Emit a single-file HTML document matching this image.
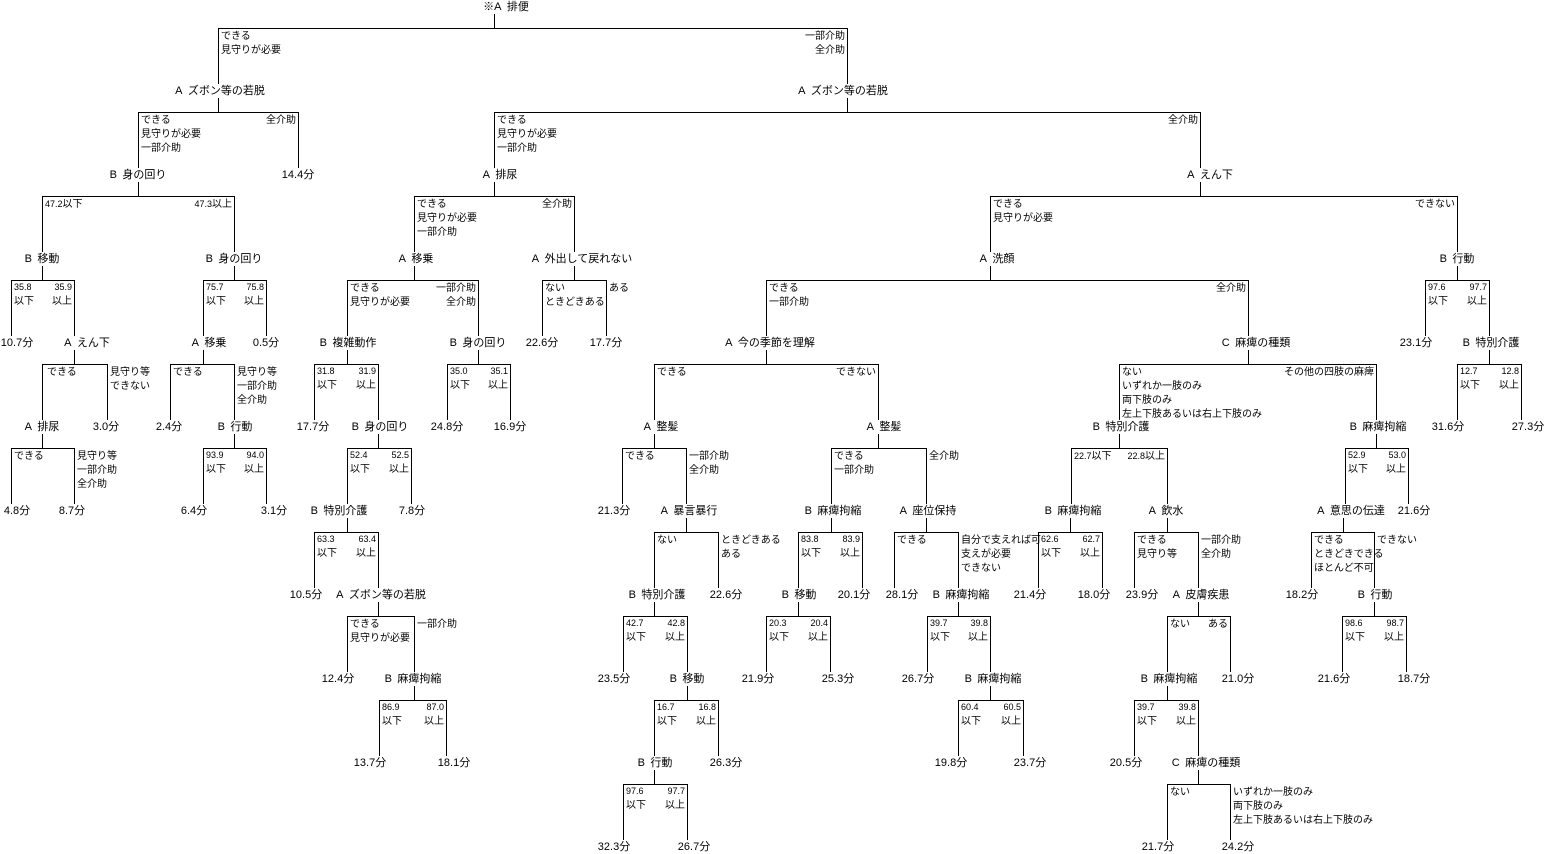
<!DOCTYPE html>
<html><head><meta charset="utf-8">
<style>
html,body{margin:0;padding:0;background:#fff;}
svg{display:block;}
text{font-family:"Liberation Sans","Noto Sans CJK JP",sans-serif;fill:#000;}
.l{font-size:11px;text-anchor:middle;}
.c{font-size:10px;}
.e{text-anchor:end;}
.n{font-size:9px;}
path{fill:none;stroke:#000;stroke-width:1;}
</style></head><body>
<svg width="1545" height="854" viewBox="0 0 1545 854" xmlns="http://www.w3.org/2000/svg" shape-rendering="crispEdges">

<!-- level 0 -->
<g transform="translate(0,0)">
<text class="l" x="506" y="10">※A&#8194;排便</text>
<path d="M494.5 14V28.5 M218.5 84V28.5H847.5V84"/>
<text class="c" x="221" y="39">できる</text><text class="c" x="221" y="53">見守りが必要</text>
<text class="c e" x="845" y="39">一部介助</text><text class="c e" x="845" y="53">全介助</text>
</g>

<!-- level 1 -->
<g transform="translate(0,84)">
<text class="l" x="220" y="10">A&#8194;ズボン等の若脱</text>
<text class="l" x="843" y="10">A&#8194;ズボン等の若脱</text>
<path d="M218.5 14V28.5 M138.5 84V28.5H298.5V84"/>
<path d="M847.5 14V28.5 M494.5 84V28.5H1200.5V84"/>
<text class="c" x="141" y="39">できる</text><text class="c" x="141" y="53">見守りが必要</text><text class="c" x="141" y="67">一部介助</text>
<text class="c e" x="296" y="39">全介助</text>
<text class="c" x="497" y="39">できる</text><text class="c" x="497" y="53">見守りが必要</text><text class="c" x="497" y="67">一部介助</text>
<text class="c e" x="1198" y="39">全介助</text>
</g>

<!-- level 2 -->
<g transform="translate(0,168)">
<text class="l" x="138" y="10">B&#8194;身の回り</text>
<text class="l" x="298" y="10">14.4分</text>
<text class="l" x="500" y="10">A&#8194;排尿</text>
<text class="l" x="1210" y="10">A&#8194;えん下</text>
<path d="M138.5 14V28.5 M42.5 84V28.5H234.5V84"/>
<path d="M494.5 14V28.5 M414.5 84V28.5H574.5V84"/>
<path d="M1200.5 14V28.5 M990.5 84V28.5H1457.5V84"/>
<text class="c" x="45" y="39"><tspan class="n">47.2</tspan>以下</text>
<text class="c e" x="232" y="39"><tspan class="n">47.3</tspan>以上</text>
<text class="c" x="417" y="39">できる</text><text class="c" x="417" y="53">見守りが必要</text><text class="c" x="417" y="67">一部介助</text>
<text class="c e" x="572" y="39">全介助</text>
<text class="c" x="993" y="39">できる</text><text class="c" x="993" y="53">見守りが必要</text>
<text class="c e" x="1455" y="39">できない</text>
</g>

<!-- level 3 -->
<g transform="translate(0,252)">
<text class="l" x="42" y="10">B&#8194;移動</text>
<text class="l" x="234" y="10">B&#8194;身の回り</text>
<text class="l" x="416" y="10">A&#8194;移乗</text>
<text class="l" x="582" y="10">A&#8194;外出して戻れない</text>
<text class="l" x="997" y="10">A&#8194;洗顔</text>
<text class="l" x="1457" y="10">B&#8194;行動</text>
<path d="M42.5 14V28.5 M11.5 84V28.5H74.5V84"/>
<path d="M234.5 14V28.5 M203.5 84V28.5H266.5V84"/>
<path d="M414.5 14V28.5 M347.5 84V28.5H478.5V84"/>
<path d="M574.5 14V28.5 M542.5 84V28.5H606.5V84"/>
<path d="M990.5 14V28.5 M766.5 84V28.5H1248.5V84"/>
<path d="M1457.5 14V28.5 M1425.5 84V28.5H1489.5V84"/>
<text class="c n" x="14" y="38">35.8</text><text class="c" x="14" y="52">以下</text>
<text class="c n e" x="72" y="38">35.9</text><text class="c e" x="72" y="52">以上</text>
<text class="c n" x="206" y="38">75.7</text><text class="c" x="206" y="52">以下</text>
<text class="c n e" x="264" y="38">75.8</text><text class="c e" x="264" y="52">以上</text>
<text class="c" x="350" y="39">できる</text><text class="c" x="350" y="53">見守りが必要</text>
<text class="c e" x="476" y="39">一部介助</text><text class="c e" x="476" y="53">全介助</text>
<text class="c" x="545" y="39">ない</text><text class="c" x="545" y="53">ときどきある</text>
<text class="c" x="609" y="39">ある</text>
<text class="c" x="769" y="39">できる</text><text class="c" x="769" y="53">一部介助</text>
<text class="c e" x="1246" y="39">全介助</text>
<text class="c n" x="1428" y="38">97.6</text><text class="c" x="1428" y="52">以下</text>
<text class="c n e" x="1487" y="38">97.7</text><text class="c e" x="1487" y="52">以上</text>
</g>

<!-- level 4 -->
<g transform="translate(0,336)">
<text class="l" x="17" y="10">10.7分</text>
<text class="l" x="87" y="10">A&#8194;えん下</text>
<text class="l" x="209" y="10">A&#8194;移乗</text>
<text class="l" x="266" y="10">0.5分</text>
<text class="l" x="348" y="10">B&#8194;複雑動作</text>
<text class="l" x="478" y="10">B&#8194;身の回り</text>
<text class="l" x="542" y="10">22.6分</text>
<text class="l" x="606" y="10">17.7分</text>
<text class="l" x="770" y="10">A&#8194;今の季節を理解</text>
<text class="l" x="1256" y="10">C&#8194;麻痺の種類</text>
<text class="l" x="1416" y="10">23.1分</text>
<text class="l" x="1491" y="10">B&#8194;特別介護</text>
<path d="M74.5 14V28.5 M42.5 84V28.5H107.5V84"/>
<path d="M203.5 14V28.5 M170.5 84V28.5H234.5V84"/>
<path d="M347.5 14V28.5 M314.5 84V28.5H378.5V84"/>
<path d="M478.5 14V28.5 M447.5 84V28.5H510.5V84"/>
<path d="M766.5 14V28.5 M654.5 84V28.5H878.5V84"/>
<path d="M1248.5 14V28.5 M1119.5 84V28.5H1376.5V84"/>
<path d="M1489.5 14V28.5 M1457.5 84V28.5H1521.5V84"/>
<text class="c" x="47" y="39">できる</text>
<text class="c" x="110" y="39">見守り等</text><text class="c" x="110" y="53">できない</text>
<text class="c" x="173" y="39">できる</text>
<text class="c" x="237" y="39">見守り等</text><text class="c" x="237" y="53">一部介助</text><text class="c" x="237" y="67">全介助</text>
<text class="c n" x="317" y="38">31.8</text><text class="c" x="317" y="52">以下</text>
<text class="c n e" x="376" y="38">31.9</text><text class="c e" x="376" y="52">以上</text>
<text class="c n" x="450" y="38">35.0</text><text class="c" x="450" y="52">以下</text>
<text class="c n e" x="508" y="38">35.1</text><text class="c e" x="508" y="52">以上</text>
<text class="c" x="657" y="39">できる</text>
<text class="c e" x="876" y="39">できない</text>
<text class="c" x="1122" y="39">ない</text><text class="c" x="1122" y="53">いずれか一肢のみ</text><text class="c" x="1122" y="67">両下肢のみ</text><text class="c" x="1122" y="81">左上下肢あるいは右上下肢のみ</text>
<text class="c e" x="1374" y="39">その他の四肢の麻痺</text>
<text class="c n" x="1460" y="38">12.7</text><text class="c" x="1460" y="52">以下</text>
<text class="c n e" x="1519" y="38">12.8</text><text class="c e" x="1519" y="52">以上</text>
</g>

<!-- level 5 -->
<g transform="translate(0,420)">
<text class="l" x="42" y="10">A&#8194;排尿</text>
<text class="l" x="106" y="10">3.0分</text>
<text class="l" x="169" y="10">2.4分</text>
<text class="l" x="235" y="10">B&#8194;行動</text>
<text class="l" x="313" y="10">17.7分</text>
<text class="l" x="380" y="10">B&#8194;身の回り</text>
<text class="l" x="447" y="10">24.8分</text>
<text class="l" x="510" y="10">16.9分</text>
<text class="l" x="661" y="10">A&#8194;整髪</text>
<text class="l" x="884" y="10">A&#8194;整髪</text>
<text class="l" x="1121" y="10">B&#8194;特別介護</text>
<text class="l" x="1378" y="10">B&#8194;麻痺拘縮</text>
<text class="l" x="1448" y="10">31.6分</text>
<text class="l" x="1528" y="10">27.3分</text>
<path d="M42.5 14V28.5 M11.5 84V28.5H74.5V84"/>
<path d="M234.5 14V28.5 M203.5 84V28.5H266.5V84"/>
<path d="M378.5 14V28.5 M347.5 84V28.5H411.5V84"/>
<path d="M654.5 14V28.5 M622.5 84V28.5H686.5V84"/>
<path d="M878.5 14V28.5 M831.5 84V28.5H926.5V84"/>
<path d="M1119.5 14V28.5 M1071.5 84V28.5H1167.5V84"/>
<path d="M1376.5 14V28.5 M1345.5 84V28.5H1408.5V84"/>
<text class="c" x="14" y="39">できる</text>
<text class="c" x="77" y="39">見守り等</text><text class="c" x="77" y="53">一部介助</text><text class="c" x="77" y="67">全介助</text>
<text class="c n" x="206" y="38">93.9</text><text class="c" x="206" y="52">以下</text>
<text class="c n e" x="264" y="38">94.0</text><text class="c e" x="264" y="52">以上</text>
<text class="c n" x="350" y="38">52.4</text><text class="c" x="350" y="52">以下</text>
<text class="c n e" x="409" y="38">52.5</text><text class="c e" x="409" y="52">以上</text>
<text class="c" x="625" y="39">できる</text>
<text class="c" x="689" y="39">一部介助</text><text class="c" x="689" y="53">全介助</text>
<text class="c" x="834" y="39">できる</text><text class="c" x="834" y="53">一部介助</text>
<text class="c" x="929" y="39">全介助</text>
<text class="c" x="1074" y="39"><tspan class="n">22.7</tspan>以下</text>
<text class="c e" x="1165" y="39"><tspan class="n">22.8</tspan>以上</text>
<text class="c n" x="1348" y="38">52.9</text><text class="c" x="1348" y="52">以下</text>
<text class="c n e" x="1406" y="38">53.0</text><text class="c e" x="1406" y="52">以上</text>
</g>

<!-- level 6 -->
<g transform="translate(0,504)">
<text class="l" x="17" y="10">4.8分</text>
<text class="l" x="72" y="10">8.7分</text>
<text class="l" x="194" y="10">6.4分</text>
<text class="l" x="274" y="10">3.1分</text>
<text class="l" x="339" y="10">B&#8194;特別介護</text>
<text class="l" x="412" y="10">7.8分</text>
<text class="l" x="614" y="10">21.3分</text>
<text class="l" x="689" y="10">A&#8194;暴言暴行</text>
<text class="l" x="833" y="10">B&#8194;麻痺拘縮</text>
<text class="l" x="928" y="10">A&#8194;座位保持</text>
<text class="l" x="1073" y="10">B&#8194;麻痺拘縮</text>
<text class="l" x="1166" y="10">A&#8194;飲水</text>
<text class="l" x="1351" y="10">A&#8194;意思の伝達</text>
<text class="l" x="1414" y="10">21.6分</text>
<path d="M347.5 14V28.5 M314.5 84V28.5H378.5V84"/>
<path d="M686.5 14V28.5 M654.5 84V28.5H718.5V84"/>
<path d="M831.5 14V28.5 M798.5 84V28.5H862.5V84"/>
<path d="M926.5 14V28.5 M894.5 84V28.5H958.5V84"/>
<path d="M1070.5 14V28.5 M1038.5 84V28.5H1102.5V84"/>
<path d="M1167.5 14V28.5 M1134.5 84V28.5H1198.5V84"/>
<path d="M1343.5 14V28.5 M1311.5 84V28.5H1374.5V84"/>
<text class="c n" x="317" y="38">63.3</text><text class="c" x="317" y="52">以下</text>
<text class="c n e" x="376" y="38">63.4</text><text class="c e" x="376" y="52">以上</text>
<text class="c" x="657" y="39">ない</text>
<text class="c" x="721" y="39">ときどきある</text><text class="c" x="721" y="53">ある</text>
<text class="c n" x="801" y="38">83.8</text><text class="c" x="801" y="52">以下</text>
<text class="c n e" x="860" y="38">83.9</text><text class="c e" x="860" y="52">以上</text>
<text class="c" x="897" y="39">できる</text>
<text class="c" x="961" y="39">自分で支えれば可</text><text class="c" x="961" y="53">支えが必要</text><text class="c" x="961" y="67">できない</text>
<text class="c n" x="1041" y="38">62.6</text><text class="c" x="1041" y="52">以下</text>
<text class="c n e" x="1100" y="38">62.7</text><text class="c e" x="1100" y="52">以上</text>
<text class="c" x="1137" y="39">できる</text><text class="c" x="1137" y="53">見守り等</text>
<text class="c" x="1201" y="39">一部介助</text><text class="c" x="1201" y="53">全介助</text>
<text class="c" x="1314" y="39">できる</text><text class="c" x="1314" y="53">ときどきできる</text><text class="c" x="1314" y="67">ほとんど不可</text>
<text class="c" x="1377" y="39">できない</text>
</g>

<!-- level 7 -->
<g transform="translate(0,588)">
<text class="l" x="306" y="10">10.5分</text>
<text class="l" x="381" y="10">A&#8194;ズボン等の若脱</text>
<text class="l" x="657" y="10">B&#8194;特別介護</text>
<text class="l" x="726" y="10">22.6分</text>
<text class="l" x="799" y="10">B&#8194;移動</text>
<text class="l" x="854" y="10">20.1分</text>
<text class="l" x="902" y="10">28.1分</text>
<text class="l" x="961" y="10">B&#8194;麻痺拘縮</text>
<text class="l" x="1030" y="10">21.4分</text>
<text class="l" x="1094" y="10">18.0分</text>
<text class="l" x="1142" y="10">23.9分</text>
<text class="l" x="1201" y="10">A&#8194;皮膚疾患</text>
<text class="l" x="1302" y="10">18.2分</text>
<text class="l" x="1375" y="10">B&#8194;行動</text>
<path d="M378.5 14V28.5 M347.5 84V28.5H414.5V84"/>
<path d="M654.5 14V28.5 M623.5 84V28.5H687.5V84"/>
<path d="M798.5 14V28.5 M766.5 84V28.5H830.5V84"/>
<path d="M958.5 14V28.5 M927.5 84V28.5H990.5V84"/>
<path d="M1198.5 14V28.5 M1167.5 84V28.5H1230.5V84"/>
<path d="M1374.5 14V28.5 M1342.5 84V28.5H1406.5V84"/>
<text class="c" x="350" y="39">できる</text><text class="c" x="350" y="53">見守りが必要</text>
<text class="c" x="417" y="39">一部介助</text>
<text class="c n" x="626" y="38">42.7</text><text class="c" x="626" y="52">以下</text>
<text class="c n e" x="685" y="38">42.8</text><text class="c e" x="685" y="52">以上</text>
<text class="c n" x="769" y="38">20.3</text><text class="c" x="769" y="52">以下</text>
<text class="c n e" x="828" y="38">20.4</text><text class="c e" x="828" y="52">以上</text>
<text class="c n" x="930" y="38">39.7</text><text class="c" x="930" y="52">以下</text>
<text class="c n e" x="988" y="38">39.8</text><text class="c e" x="988" y="52">以上</text>
<text class="c" x="1170" y="39">ない</text>
<text class="c e" x="1228" y="39">ある</text>
<text class="c n" x="1345" y="38">98.6</text><text class="c" x="1345" y="52">以下</text>
<text class="c n e" x="1404" y="38">98.7</text><text class="c e" x="1404" y="52">以上</text>
</g>

<!-- level 8 -->
<g transform="translate(0,672)">
<text class="l" x="338" y="10">12.4分</text>
<text class="l" x="413" y="10">B&#8194;麻痺拘縮</text>
<text class="l" x="614" y="10">23.5分</text>
<text class="l" x="687" y="10">B&#8194;移動</text>
<text class="l" x="758" y="10">21.9分</text>
<text class="l" x="838" y="10">25.3分</text>
<text class="l" x="918" y="10">26.7分</text>
<text class="l" x="993" y="10">B&#8194;麻痺拘縮</text>
<text class="l" x="1169" y="10">B&#8194;麻痺拘縮</text>
<text class="l" x="1238" y="10">21.0分</text>
<text class="l" x="1334" y="10">21.6分</text>
<text class="l" x="1414" y="10">18.7分</text>
<path d="M414.5 14V28.5 M379.5 84V28.5H446.5V84"/>
<path d="M687.5 14V28.5 M654.5 84V28.5H718.5V84"/>
<path d="M990.5 14V28.5 M958.5 84V28.5H1023.5V84"/>
<path d="M1167.5 14V28.5 M1134.5 84V28.5H1198.5V84"/>
<text class="c n" x="382" y="38">86.9</text><text class="c" x="382" y="52">以下</text>
<text class="c n e" x="444" y="38">87.0</text><text class="c e" x="444" y="52">以上</text>
<text class="c n" x="657" y="38">16.7</text><text class="c" x="657" y="52">以下</text>
<text class="c n e" x="716" y="38">16.8</text><text class="c e" x="716" y="52">以上</text>
<text class="c n" x="961" y="38">60.4</text><text class="c" x="961" y="52">以下</text>
<text class="c n e" x="1021" y="38">60.5</text><text class="c e" x="1021" y="52">以上</text>
<text class="c n" x="1137" y="38">39.7</text><text class="c" x="1137" y="52">以下</text>
<text class="c n e" x="1196" y="38">39.8</text><text class="c e" x="1196" y="52">以上</text>
</g>

<!-- level 9 -->
<g transform="translate(0,756)">
<text class="l" x="370" y="10">13.7分</text>
<text class="l" x="454" y="10">18.1分</text>
<text class="l" x="655" y="10">B&#8194;行動</text>
<text class="l" x="726" y="10">26.3分</text>
<text class="l" x="951" y="10">19.8分</text>
<text class="l" x="1030" y="10">23.7分</text>
<text class="l" x="1126" y="10">20.5分</text>
<text class="l" x="1206" y="10">C&#8194;麻痺の種類</text>
<path d="M654.5 14V28.5 M623.5 84V28.5H687.5V84"/>
<path d="M1198.5 14V28.5 M1167.5 84V28.5H1230.5V84"/>
<text class="c n" x="626" y="38">97.6</text><text class="c" x="626" y="52">以下</text>
<text class="c n e" x="685" y="38">97.7</text><text class="c e" x="685" y="52">以上</text>
<text class="c" x="1170" y="39">ない</text>
<text class="c" x="1233" y="39">いずれか一肢のみ</text><text class="c" x="1233" y="53">両下肢のみ</text><text class="c" x="1233" y="67">左上下肢あるいは右上下肢のみ</text>
</g>

<!-- level 10 -->
<g transform="translate(0,840)">
<text class="l" x="614" y="10">32.3分</text>
<text class="l" x="694" y="10">26.7分</text>
<text class="l" x="1158" y="10">21.7分</text>
<text class="l" x="1238" y="10">24.2分</text>
</g>

</svg>
</body></html>
